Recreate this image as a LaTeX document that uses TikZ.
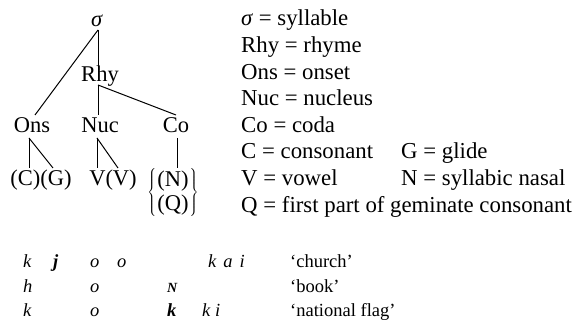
\documentclass[tikz,border=0pt]{standalone}
\usepackage{fontspec}
\setmainfont{Liberation Serif}
\begin{document}
\begin{tikzpicture}[x=1pt,y=-1pt,
  big/.style={font=\fontsize{22.5}{26}\selectfont, inner sep=0pt, anchor=base},
  leg/.style={font=\fontsize{22.8}{26}\selectfont, inner sep=0pt, anchor=base west},
  ex/.style={font=\fontsize{18.5}{21}\selectfont\itshape, inner sep=0pt, anchor=base west},
  gloss/.style={font=\fontsize{18.5}{21}\selectfont, inner sep=0pt, anchor=base west},
  br/.style={line width=1pt}]
\useasboundingbox (0,0) rectangle (575,320);
% tree
\node[big] (sig) at (97,27) {\textit{σ}};
\node[big] (rhy) at (100,82) {Rhy};
\node[big] (ons) at (32,133) {Ons};
\node[big] (nuc) at (100,133) {Nuc};
\node[big] (co) at (176,133) {Co};
\node[big] (cg) at (41,186) {(C)(G)};
\node[big] (vv) at (113,186) {V(V)};
\node[big, anchor=center] (nq) at (173,193) {$\left\{\hspace{1pt}\mbox{\begin{tabular}{@{}c@{}}(N)\\[-2pt](Q)\end{tabular}}\hspace{1pt}\right\}$};
% connector points
\coordinate (s1) at (98,30);
\coordinate (r0) at (98,68);
\coordinate (r1) at (98,85);
\coordinate (o0) at (35,115);
\coordinate (n0) at (98,115);
\coordinate (c0) at (176,115);
\coordinate (o1) at (29,138);
\coordinate (cc) at (29,168);
\coordinate (gg) at (53,168);
\coordinate (n1) at (97,138);
\coordinate (v1) at (97,168);
\coordinate (v2) at (118,168);
\coordinate (c1) at (177,138);
\coordinate (nn) at (177,168);
\draw[br] (s1) -- (o0);
\draw[br] (s1) -- (r0);
\draw[br] (r1) -- (n0);
\draw[br] (r1) -- (c0);
\draw[br] (o1) -- (cc);
\draw[br] (o1) -- (gg);
\draw[br] (n1) -- (v1);
\draw[br] (n1) -- (v2);
\draw[br] (c1) -- (nn);
% legend
\node[leg] (l1) at (241,26) {\textit{σ} = syllable};
\node[leg] (l2) at (241,52.6) {Rhy = rhyme};
\node[leg] (l3) at (241,79.2) {Ons = onset};
\node[leg] (l4) at (241,105.8) {Nuc = nucleus};
\node[leg] (l5) at (241,132.4) {Co = coda};
\node[leg] (l6) at (241,159) {C = consonant};
\node[leg] (l6b) at (401,159) {G = glide};
\node[leg] (l7) at (241,185.6) {V = vowel};
\node[leg] (l7b) at (401,185.6) {N = syllabic nasal};
\node[leg] (l8) at (241,212.2) {Q = first part of geminate consonant};
% examples
\node[ex] (a1) at (23,267) {k};
\node[ex] (a2) at (53,267) {\bfseries j};
\node[ex] (a3) at (90,267) {o};
\node[ex] (a4) at (117,267) {o};
\node[ex] (a5) at (208,267) {k\hspace{7pt}a\hspace{7pt}i};
\node[gloss] (a6) at (290,267) {‘church’};
\node[ex] (b1) at (23,292) {h};
\node[ex] (b2) at (90,292) {o};
\node[ex, font=\fontsize{14}{16}\selectfont\bfseries\itshape] (b3) at (167,292) {N};
\node[gloss] (b4) at (290,292) {‘book’};
\node[ex] (c1t) at (23,316) {k};
\node[ex] (c2t) at (90,316) {o};
\node[ex] (c3t) at (167,316) {\bfseries k};
\node[ex] (c4t) at (202,316) {k i};
\node[gloss] (c5t) at (290,316) {‘national flag’};
\end{tikzpicture}
\end{document}
